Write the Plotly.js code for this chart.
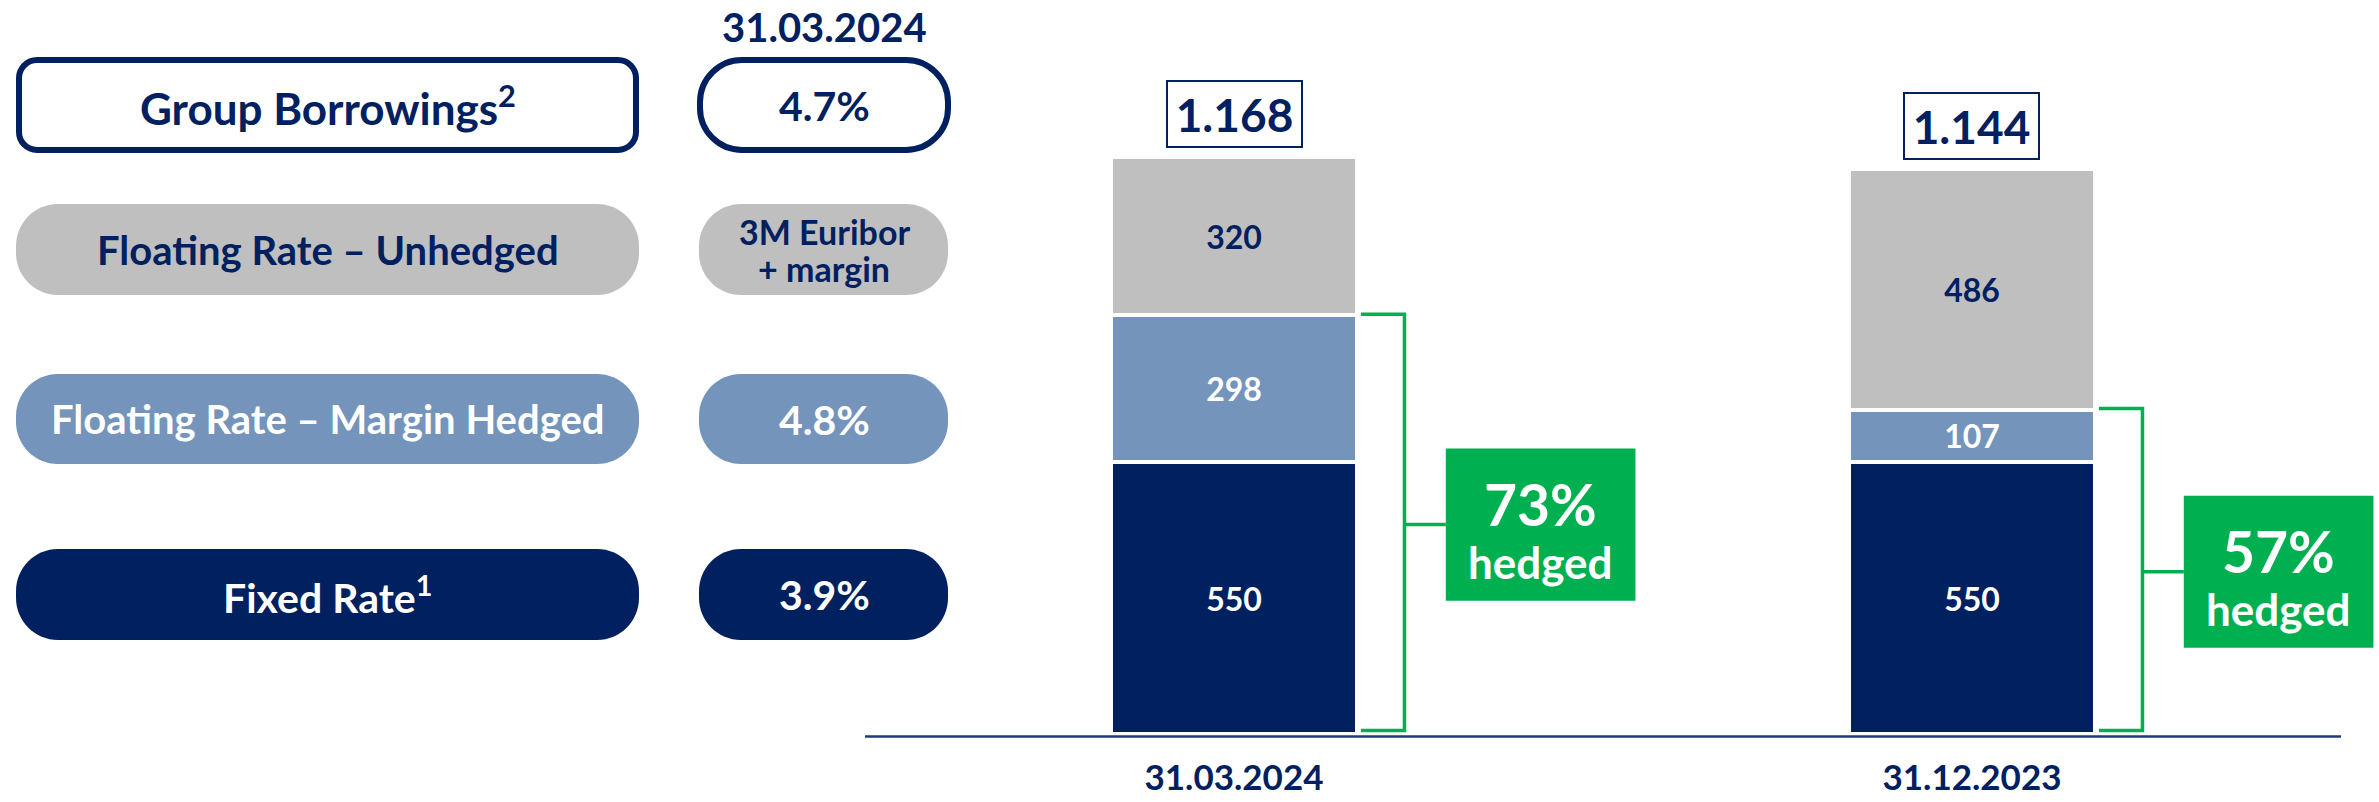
<!DOCTYPE html>
<html>
<head>
<meta charset="utf-8">
<script src="https://cdn.plot.ly/plotly-3.0.1.min.js"></script>
<style>html,body{margin:0;padding:0;background:#fff;}#chart{width:2379px;height:802px;}</style>
</head>
<body>
<div id="chart"></div>
<script>
// ---------- data ----------
const categories   = ['31.03.2024', '31.12.2023'];
const fixedRate    = [550, 550];
const marginHedged = [298, 107];
const unhedged     = [320, 486];
const totalLabels  = ['1.168', '1.144'];   // totals as printed on the chart
const hedgedLabels = ['73%', '57%'];

const seriesNames  = ['Fixed Rate', 'Floating Rate – Margin Hedged', 'Floating Rate – Unhedged'];

const rateHeader   = '31.03.2024';
const rateLabels   = ['Group Borrowings<sup>2</sup>', 'Floating Rate – Unhedged', 'Floating Rate – Margin Hedged', 'Fixed Rate<sup>1</sup>'];
const rateValues   = ['4.7%', '3M Euribor<br>+ margin', '4.8%', '3.9%'];

// ---------- style ----------
const W = 2379, H = 802;
const NAVY = '#002060', LBLUE = '#7494BB', GREY = '#BFBFBF', GREEN = '#00B050';
const FONT = 'Lato, "Open Sans", sans-serif';

const totals = categories.map((c, i) => fixedRate[i] + marginHedged[i] + unhedged[i]);
const hedged = categories.map((c, i) => fixedRate[i] + marginHedged[i]);

// pixel -> paper helpers (margins are zero so paper == figure)
const PX = x => (x / W).toFixed(5);
const PY = y => (1 - y / H).toFixed(5);
function roundRect(x0, y0, x1, y1, r) {
  const k = 0.5523 * r;
  const P = (x, y) => PX(x) + ',' + PY(y);
  return 'M' + P(x0 + r, y0) + ' L' + P(x1 - r, y0) +
    ' C' + P(x1 - r + k, y0) + ' ' + P(x1, y0 + r - k) + ' ' + P(x1, y0 + r) +
    ' L' + P(x1, y1 - r) +
    ' C' + P(x1, y1 - r + k) + ' ' + P(x1 - r + k, y1) + ' ' + P(x1 - r, y1) +
    ' L' + P(x0 + r, y1) +
    ' C' + P(x0 + r - k, y1) + ' ' + P(x0, y1 - r + k) + ' ' + P(x0, y1 - r) +
    ' L' + P(x0, y0 + r) +
    ' C' + P(x0, y0 + r - k) + ' ' + P(x0 + r - k, y0) + ' ' + P(x0 + r, y0) + ' Z';
}

// ---------- traces ----------
function barTrace(name, vals, color, textColor) {
  return {
    type: 'bar', name: name, x: categories, y: vals,
    width: 0.3333,
    marker: {color: color, line: {color: '#ffffff', width: 4}},
    texttemplate: '%{y}', textposition: 'inside', insidetextanchor: 'middle',
    textangle: 0,
    textfont: {family: FONT, size: 32, color: textColor, weight: 700},
    hoverinfo: 'skip'
  };
}
const data = [
  barTrace(seriesNames[0], fixedRate, NAVY, '#ffffff'),
  barTrace(seriesNames[1], marginHedged, LBLUE, '#ffffff'),
  barTrace(seriesNames[2], unhedged, GREY, NAVY)
];

// ---------- shapes & annotations ----------
const shapes = [];
const annotations = [];

// left legend pills
const rows = [[57, 153], [204, 295], [374, 464], [549, 640]];
const rowFill = [null, GREY, LBLUE, NAVY];
const rowText = [NAVY, NAVY, '#ffffff', '#ffffff'];
const rowSize = [44, 40, 40, 41];
rows.forEach((r, i) => {
  if (i === 0) {
    shapes.push({type: 'path', xref: 'paper', yref: 'paper', layer: 'below',
      path: roundRect(19, r[0] + 3, 636, r[1] - 3, 18), fillcolor: '#ffffff', line: {color: NAVY, width: 6}});
    shapes.push({type: 'path', xref: 'paper', yref: 'paper', layer: 'below',
      path: roundRect(700, r[0] + 3, 948, r[1] - 3, 42), fillcolor: '#ffffff', line: {color: NAVY, width: 6}});
  } else {
    shapes.push({type: 'path', xref: 'paper', yref: 'paper', layer: 'below',
      path: roundRect(16, r[0], 639, r[1], 42), fillcolor: rowFill[i], line: {width: 0}});
    shapes.push({type: 'path', xref: 'paper', yref: 'paper', layer: 'below',
      path: roundRect(699, r[0], 948, r[1], 42), fillcolor: rowFill[i], line: {width: 0}});
  }
  const cy = (r[0] + r[1]) / 2;
  annotations.push({xref: 'paper', yref: 'paper', x: 327.5 / W, y: 1 - cy / H,
    xanchor: 'center', yanchor: 'middle', showarrow: false, text: rateLabels[i],
    font: {family: FONT, size: rowSize[i], color: rowText[i], weight: 700}});
  const lines = rateValues[i].split('<br>');
  lines.forEach((ln, j) => {
    const ly = cy + (j - (lines.length - 1) / 2) * 37;
    annotations.push({xref: 'paper', yref: 'paper', x: 824 / W, y: 1 - ly / H,
      xanchor: 'center', yanchor: 'middle', showarrow: false, text: ln,
      font: {family: FONT, size: lines.length > 1 ? 34 : 41, color: rowText[i], weight: 700}});
  });
});
annotations.push({xref: 'paper', yref: 'paper', x: 824 / W, y: 1 - 27 / H,
  xanchor: 'center', yanchor: 'middle', showarrow: false, text: rateHeader,
  font: {family: FONT, size: 40, color: NAVY, weight: 700}});

// axis baseline
shapes.push({type: 'line', xref: 'x', yref: 'paper', x0: -0.5, x1: 1.5,
  y0: 1 - 736.5 / H, y1: 1 - 736.5 / H, line: {color: '#1F3A78', width: 2.5}});

categories.forEach((c, i) => {
  // total box
  annotations.push({xref: 'x', yref: 'y', x: i, y: totals[i], xanchor: 'center', yanchor: 'bottom',
    yshift: 9, showarrow: false, text: totalLabels[i], width: 131, height: 62,
    bgcolor: '#ffffff', bordercolor: NAVY, borderwidth: 2, borderpad: 1,
    font: {family: FONT, size: 46, color: NAVY, weight: 700}});
  // bracket around hedged part
  const xa = i + 0.172, xb = i + 0.231, xc = i + 0.287, xd = i + 0.544;
  shapes.push({type: 'path', xref: 'x', yref: 'y',
    path: 'M' + xa + ',' + (hedged[i] + 2) + ' L' + xb + ',' + (hedged[i] + 2) + ' L' + xb + ',7 L' + xa + ',7',
    line: {color: GREEN, width: 3.5}});
  shapes.push({type: 'line', xref: 'x', yref: 'y', x0: xb, x1: xc, y0: hedged[i] / 2, y1: hedged[i] / 2,
    line: {color: GREEN, width: 3.5}});
  // green hedged box
  shapes.push({type: 'rect', xref: 'x', yref: 'y', x0: xc, x1: xd,
    y0: hedged[i] / 2 - 154, y1: hedged[i] / 2 + 154, fillcolor: GREEN, line: {width: 0}});
  annotations.push({xref: 'x', yref: 'y', x: (xc + xd) / 2, y: hedged[i] / 2, yshift: 21,
    xanchor: 'center', yanchor: 'middle', showarrow: false, text: hedgedLabels[i],
    font: {family: FONT, size: 57, color: '#ffffff', weight: 700}});
  annotations.push({xref: 'x', yref: 'y', x: (xc + xd) / 2, y: hedged[i] / 2, yshift: -37,
    xanchor: 'center', yanchor: 'middle', showarrow: false, text: 'hedged',
    font: {family: FONT, size: 44, color: '#ffffff', weight: 700}});
});

const layout = {
  width: W, height: H,
  margin: {l: 0, r: 0, t: 0, b: 0, pad: 0},
  paper_bgcolor: '#ffffff', plot_bgcolor: '#ffffff',
  showlegend: false,
  barmode: 'stack',
  uniformtext: {mode: 'show', minsize: 32},
  xaxis: {
    type: 'category', domain: [865 / W, 1], range: [-0.5, 1.5515],
    showgrid: false, zeroline: false, showline: false, ticks: '',
    tickfont: {family: FONT, size: 35, color: NAVY, weight: 700},
    ticklabelstandoff: 14, automargin: false, fixedrange: true
  },
  yaxis: {
    domain: [1 - 740 / H, 1 - 20 / H], range: [-12, 1445.5],
    visible: false, showgrid: false, zeroline: false, automargin: false, fixedrange: true
  },
  shapes: shapes,
  annotations: annotations
};

Plotly.newPlot('chart', data, layout, {staticPlot: true, displayModeBar: false});
</script>
</body>
</html>
